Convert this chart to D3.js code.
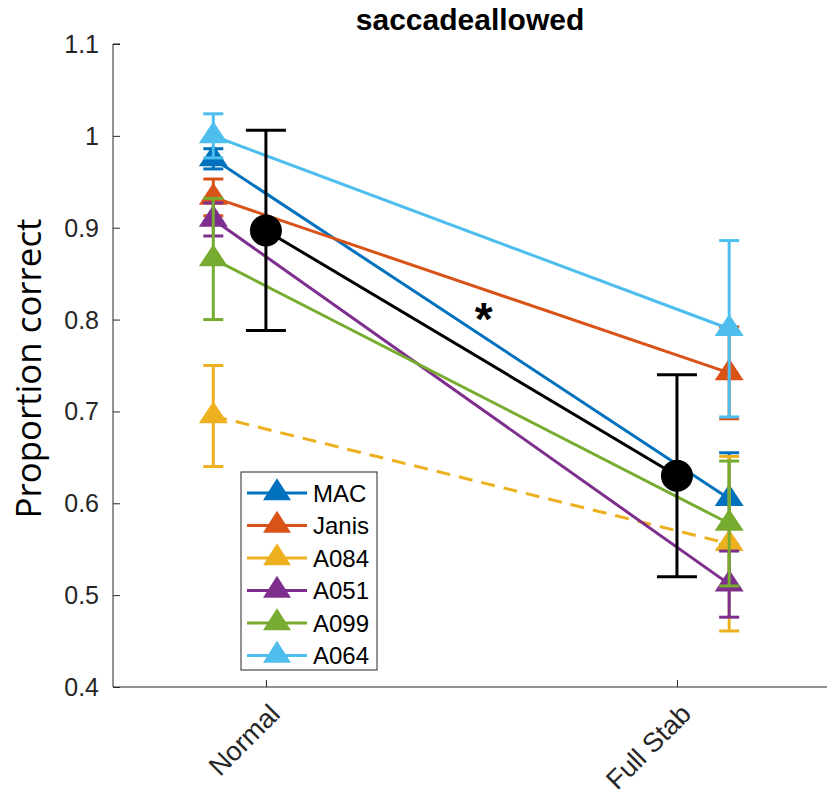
<!DOCTYPE html>
<html lang="en">
<head>
<meta charset="UTF-8">
<script src="https://d3js.org/d3.v7.min.js"></script>
<style>
body { margin: 0; background: #fff; }
text { font-family: "Liberation Sans", Arial, sans-serif; }
</style>
</head>
<body>
<div class="canva"></div>
<script>
// data
const conditions = ["Normal", "Full Stab"];
const subjects = ["MAC", "Janis", "A084", "A051", "A099", "A064"];
const subjectColors = ["#0072BD", "#D95319", "#EDB120", "#7E2F8E", "#77AC30", "#4DBEEE"];
const normalValues = [0.975, 0.933, 0.695, 0.909, 0.866, 1.0];
const normalErrors = [0.011, 0.02, 0.055, 0.018, 0.066, 0.024];
const stabValues = [0.605, 0.742, 0.556, 0.512, 0.578, 0.79];
const stabErrors = [0.05, 0.05, 0.095, 0.036, 0.068, 0.096];
const dashedSubjects = ["A084"];
const groupMeans = [0.897, 0.63];
const groupErrors = [0.109, 0.11];
const yTicks = [0.4, 0.5, 0.6, 0.7, 0.8, 0.9, 1, 1.1];

const width = 827, height = 797;
const margin = {top: 44, left: 113, right: 0, bottom: 110};

const svg = d3.select(".canva").append("svg")
  .attr("width", width)
  .attr("height", height);

const x = d3.scaleLinear().domain([0.628, 2.365]).range([margin.left, width - margin.right]);
const y = d3.scaleLinear().domain([0.4, 1.1]).range([height - margin.bottom, margin.top]);

const subjX = [0.872, 2.127];
const axisColor = "#262626";

// axes (MATLAB style, ticks pointing in)
const yAxis = svg.append("g")
  .attr("transform", `translate(${margin.left},0)`)
  .call(d3.axisRight(y).tickValues(yTicks).tickSize(7).tickFormat(d3.format("~g")));
yAxis.selectAll("text").remove();
yAxis.selectAll("line,path").attr("stroke", axisColor);
yAxis.select(".domain").attr("d", `M7,${y(1.1)}H0V${y(0.4)}`);

svg.append("g").selectAll("text")
  .data(yTicks).enter().append("text")
  .attr("x", margin.left - 14)
  .attr("y", d => y(d))
  .attr("dy", "0.36em")
  .attr("text-anchor", "end")
  .attr("fill", axisColor)
  .style("font-size", "25px")
  .text(d => d3.format("~g")(d));

const xAxis = svg.append("g")
  .attr("transform", `translate(0,${y(0.4)})`)
  .call(d3.axisTop(x).tickValues([1, 2]).tickSize(7).tickFormat(""));
xAxis.selectAll("line,path").attr("stroke", axisColor);
xAxis.select(".domain").attr("d", `M${margin.left},0H${width}`);

conditions.forEach((c, i) => {
  svg.append("text")
    .attr("transform", `translate(${x(i + 1) + 9},${y(0.4) + 22}) rotate(-45)`)
    .attr("text-anchor", "end")
    .attr("dy", "0.35em")
    .attr("fill", axisColor)
    .style("font-size", "27px")
    .text(c);
});

// y label
svg.append("text")
  .attr("transform", `translate(41,${(y(0.4) + y(1.1)) / 2 + 3}) rotate(-90)`)
  .attr("text-anchor", "middle")
  .attr("fill", "#000")
  .attr("textLength", 300)
  .attr("lengthAdjust", "spacingAndGlyphs")
  .style("font-family", "'Open Sans', sans-serif")
  .style("font-size", "34px")
  .text("Proportion correct");

// title
svg.append("text")
  .attr("x", (margin.left + width) / 2)
  .attr("y", 30)
  .attr("text-anchor", "middle")
  .attr("font-weight", "bold")
  .style("font-size", "30px")
  .text("saccadeallowed");

function triangle(w, h) {
  return `M0,${-h * 2 / 3}L${w / 2},${h / 3}L${-w / 2},${h / 3}Z`;
}

const plot = svg.append("g");

// one subject after the other, same order as the legend
subjects.forEach((s, i) => {
  const col = subjectColors[i];
  const pts = [
    {x: subjX[0], v: normalValues[i], e: normalErrors[i]},
    {x: subjX[1], v: stabValues[i], e: stabErrors[i]}
  ];
  const g = plot.append("g");
  pts.forEach(p => {
    g.append("line")
      .attr("x1", x(p.x)).attr("x2", x(p.x))
      .attr("y1", y(p.v - p.e)).attr("y2", y(p.v + p.e))
      .attr("stroke", col).attr("stroke-width", 3);
    [p.v - p.e, p.v + p.e].forEach(c => {
      g.append("line")
        .attr("x1", x(p.x) - 10).attr("x2", x(p.x) + 10)
        .attr("y1", y(c)).attr("y2", y(c))
        .attr("stroke", col).attr("stroke-width", 3);
    });
  });
  g.append("path")
    .attr("d", d3.line().x(p => x(p.x)).y(p => y(p.v))(pts))
    .attr("fill", "none")
    .attr("stroke", col)
    .attr("stroke-width", 3)
    .attr("stroke-dasharray", dashedSubjects.includes(s) ? "14,9" : null);
  g.selectAll(".mk").data(pts).enter().append("path")
    .attr("transform", p => `translate(${x(p.x)},${y(p.v)})`)
    .attr("d", triangle(29, 22))
    .attr("fill", col);
});

// group mean
const mg = plot.append("g");
mg.append("path")
  .attr("d", d3.line().x((d, i) => x(i + 1)).y(d => y(d))(groupMeans))
  .attr("fill", "none").attr("stroke", "#000").attr("stroke-width", 3);
groupMeans.forEach((m, i) => {
  mg.append("line")
    .attr("x1", x(i + 1)).attr("x2", x(i + 1))
    .attr("y1", y(m - groupErrors[i])).attr("y2", y(m + groupErrors[i]))
    .attr("stroke", "#000").attr("stroke-width", 3);
  [m - groupErrors[i], m + groupErrors[i]].forEach(c => {
    mg.append("line")
      .attr("x1", x(i + 1) - 20).attr("x2", x(i + 1) + 20)
      .attr("y1", y(c)).attr("y2", y(c))
      .attr("stroke", "#000").attr("stroke-width", 3);
  });
  mg.append("circle")
    .attr("cx", x(i + 1)).attr("cy", y(m)).attr("r", 16)
    .attr("fill", "#000");
});

// significance star
svg.append("text")
  .attr("x", x(1.53))
  .attr("y", y(0.8) + 15)
  .attr("text-anchor", "middle")
  .attr("font-weight", "bold")
  .style("font-size", "46px")
  .text("*");

// legend
const legend = svg.append("g").attr("transform", "translate(241,472)");
legend.append("rect")
  .attr("width", 136).attr("height", 198)
  .attr("fill", "#fff").attr("stroke", axisColor).attr("stroke-width", 1);
subjects.forEach((s, i) => {
  const ly = 21 + i * 32.5;
  legend.append("line")
    .attr("x1", 6).attr("x2", 66).attr("y1", ly).attr("y2", ly)
    .attr("stroke", subjectColors[i]).attr("stroke-width", 3);
  legend.append("path")
    .attr("transform", `translate(36,${ly})`)
    .attr("d", triangle(28, 22))
    .attr("fill", subjectColors[i]);
  legend.append("text")
    .attr("x", 72).attr("y", ly)
    .attr("dy", "0.36em")
    .style("font-size", "24px")
    .text(s);
});
</script>
</body>
</html>
